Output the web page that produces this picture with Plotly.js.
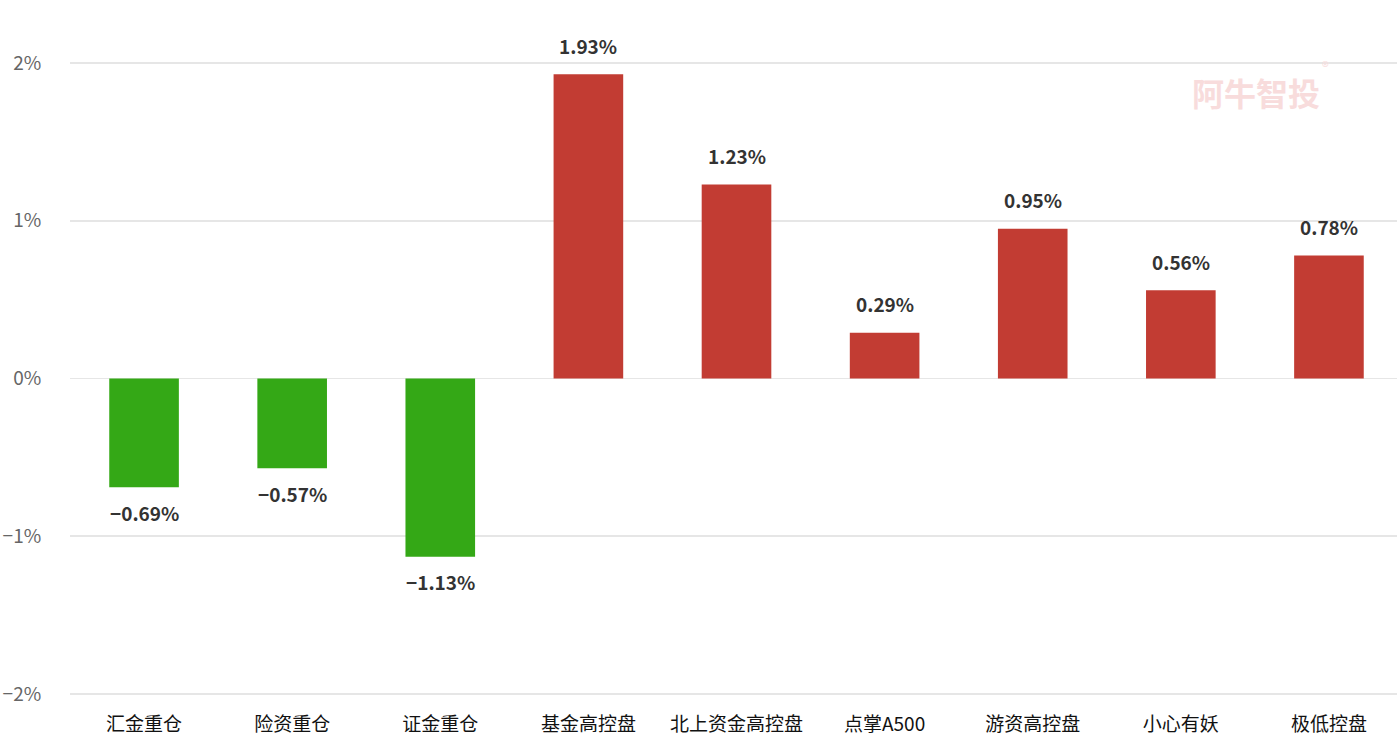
<!DOCTYPE html>
<html><head><meta charset="utf-8">
<script src="https://cdn.plot.ly/plotly-3.0.1.min.js"></script>
<style>html,body{margin:0;padding:0;overflow:hidden;background:#fff}</style>
</head><body><div id="chart"></div>
<script>
const categories = ["汇金重仓","险资重仓","证金重仓","基金高控盘","北上资金高控盘","点掌A500","游资高控盘","小心有妖","极低控盘"];
const values = [-0.69,-0.57,-1.13,1.93,1.23,0.29,0.95,0.56,0.78];
const labels = ["−0.69%","−0.57%","−1.13%","1.93%","1.23%","0.29%","0.95%","0.56%","0.78%"];
const yTickVals = [-2,-1,0,1,2];
const yTickText = ["−2%","−1%","0%","1%","2%"];

const colors = values.map(v => v >= 0 ? "#c23c33" : "#34a816");
const font = "Noto Sans CJK SC, Microsoft YaHei, sans-serif";

const annotations = values.map((v,i) => ({
  x: categories[i], y: v, xref:"x", yref:"y", text: labels[i], showarrow:false,
  yanchor:"middle", yshift: v >= 0 ? 29 : -25,
  font:{family:font, size:19, color:"#333333", weight:600}
}));
annotations.push({
  xref:"paper", yref:"paper", x:0.89, y:0.95, xanchor:"center", yanchor:"middle",
  text:"阿牛智投", showarrow:false, font:{family:font, size:32, color:"#f8dcdc", weight:700}
});
annotations.push({
  xref:"paper", yref:"paper", x:0.942, y:0.99, xanchor:"center", yanchor:"middle",
  text:"®", showarrow:false, font:{family:font, size:14, color:"#f8dcdc"}
});

Plotly.newPlot("chart", [{
  type:"bar", x:categories, y:values, marker:{color:colors}, width:0.47,
  hoverinfo:"skip"
}], {
  width:1403, height:744,
  margin:{l:70, r:0, t:60, b:47},
  paper_bgcolor:"#fff", plot_bgcolor:"#fff",
  showlegend:false,
  xaxis:{showgrid:false, zeroline:false, showline:false, ticks:"outside", ticklen:10, tickcolor:"rgba(0,0,0,0)",
    tickfont:{family:font, size:19, color:"#111"}},
  yaxis:{range:[-2.02,2.02], tickvals:yTickVals, ticktext:yTickText, showgrid:true, gridcolor:"#e6e6e6", gridwidth:1.5,
    zeroline:true, zerolinecolor:"#e6e6e6", zerolinewidth:1.5, showline:false,
    ticks:"outside", ticklen:24, tickcolor:"rgba(0,0,0,0)",
    tickfont:{family:font, size:19, color:"#666666"}},
  annotations: annotations
}, {displayModeBar:false, staticPlot:true});
</script></body></html>
